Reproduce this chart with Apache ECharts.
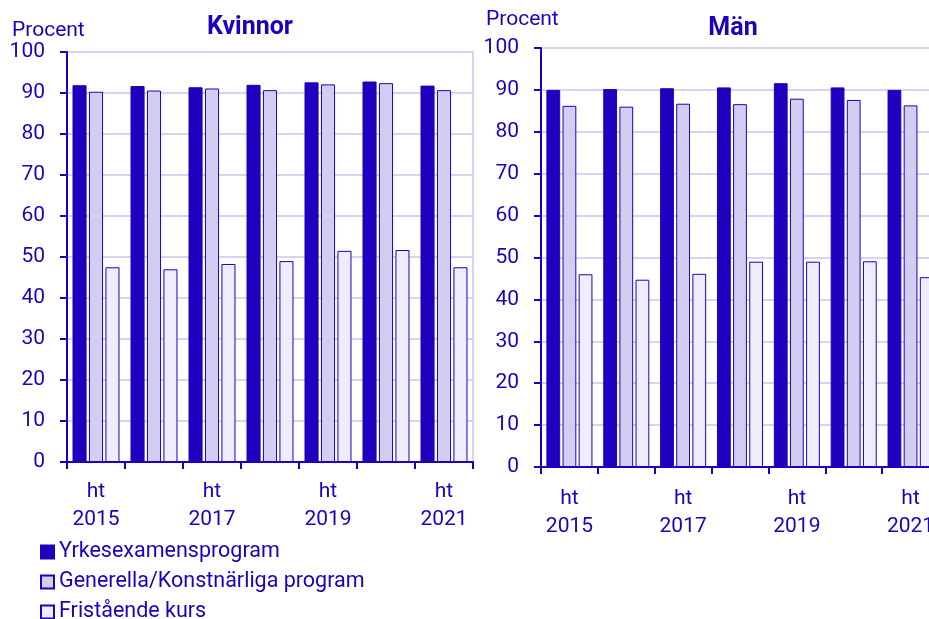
<!DOCTYPE html>
<html>
<head>
<meta charset="utf-8">
<script src="https://cdn.jsdelivr.net/npm/echarts@6/dist/echarts.min.js"></script>
<style>
html,body{margin:0;padding:0;background:#fff;overflow:hidden;width:929px;height:619px;}
#chart{width:960px;height:700px;}
</style>
</head>
<body>
<div id="chart"></div>
<script>
var categories = ['ht 2015','ht 2016','ht 2017','ht 2018','ht 2019','ht 2020','ht 2021'];
var seriesNames = ['Yrkesexamensprogram','Generella/Konstnärliga program','Fristående kurs'];
var kvinnorYrk = [91.9, 91.7, 91.4, 92.0, 92.6, 92.8, 91.8];
var kvinnorGen = [90.3, 90.6, 91.1, 90.7, 92.1, 92.4, 90.7];
var kvinnorFri = [47.5, 47.0, 48.3, 49.0, 51.5, 51.7, 47.5];
var manYrk = [90.0, 90.2, 90.4, 90.6, 91.6, 90.6, 90.0];
var manGen = [86.2, 86.0, 86.7, 86.6, 87.9, 87.6, 86.3];
var manFri = [46.0, 44.7, 46.1, 49.0, 49.0, 49.1, 45.3];
var yTicks = [0, 100, 10];
var panelTitles = ['Kvinnor', 'Män'];
var yUnit = 'Procent';

var DARK = '#1e00be';
var FILLS = [DARK, '#d2cdf1', '#eeecfd'];
var GRIDC = '#d6d4f1';
var FONT = 'Roboto';
var FS = 21;

function yAxis(idx, margin) {
  return {
    type: 'value', gridIndex: idx, min: yTicks[0], max: yTicks[1], interval: yTicks[2],
    axisLine: {show: true, lineStyle: {color: DARK, width: 2}},
    axisTick: {show: true, length: 7, lineStyle: {color: DARK, width: 2}},
    axisLabel: {color: DARK, fontFamily: FONT, fontSize: FS, margin: margin},
    splitLine: {show: true, lineStyle: {color: GRIDC, width: 2}}
  };
}
function xAxis(idx, margin) {
  return {
    type: 'category', gridIndex: idx, data: categories,
    axisLine: {show: true, lineStyle: {color: DARK, width: 2}},
    axisTick: {show: true, length: 7, interval: 0, lineStyle: {color: DARK, width: 2}},
    axisLabel: {color: DARK, fontFamily: FONT, fontSize: FS, lineHeight: 28, margin: margin, interval: 1,
      formatter: function (v) { return v.replace(' ', '\n'); }},
    splitLine: {show: false}
  };
}
function bar(name, data, idx, k) {
  return {
    type: 'bar', name: name, data: data, xAxisIndex: idx, yAxisIndex: idx,
    barCategoryGap: '19%', barGap: '17%',
    itemStyle: {color: FILLS[k], borderColor: DARK, borderWidth: 1},
    emphasis: {disabled: true}, animation: false
  };
}

var chart = echarts.init(document.getElementById('chart'), null, {renderer: 'canvas'});
chart.setOption({
  backgroundColor: '#fff',
  animation: false,
  textStyle: {fontFamily: FONT},
  grid: [
    {left: 67, top: 52, width: 406, height: 410, show: true, borderColor: GRIDC, borderWidth: 2, backgroundColor: 'transparent'},
    {left: 541, top: 48, width: 398, height: 419, show: true, borderColor: GRIDC, borderWidth: 2, backgroundColor: 'transparent'}
  ],
  xAxis: [xAxis(0, 16), xAxis(1, 18)],
  yAxis: [yAxis(0, 22), yAxis(1, 22)],
  legend: {
    orient: 'vertical', left: 40, top: 541, padding: 0,
    itemWidth: 13, itemHeight: 13, itemGap: 8, icon: 'rect',
    textStyle: {color: DARK, fontFamily: FONT, fontSize: 21.5},
    data: seriesNames, selectedMode: false
  },
  graphic: [
    {type: 'text', x: 12, y: 31, style: {text: yUnit, fill: DARK, font: FS + 'px Roboto', textAlign: 'left', textVerticalAlign: 'middle'}},
    {type: 'text', x: 486, y: 20, style: {text: yUnit, fill: DARK, font: FS + 'px Roboto', textAlign: 'left', textVerticalAlign: 'middle'}},
    {type: 'text', x: 250, y: 28, style: {text: panelTitles[0], fill: DARK, font: 'bold 25px Roboto', textAlign: 'center', textVerticalAlign: 'middle'}},
    {type: 'text', x: 733, y: 29, style: {text: panelTitles[1], fill: DARK, font: 'bold 25px Roboto', textAlign: 'center', textVerticalAlign: 'middle'}}
  ],
  series: [
    bar(seriesNames[0], kvinnorYrk, 0, 0),
    bar(seriesNames[1], kvinnorGen, 0, 1),
    bar(seriesNames[2], kvinnorFri, 0, 2),
    bar(seriesNames[0], manYrk, 1, 0),
    bar(seriesNames[1], manGen, 1, 1),
    bar(seriesNames[2], manFri, 1, 2)
  ]
});
</script>
</body>
</html>
